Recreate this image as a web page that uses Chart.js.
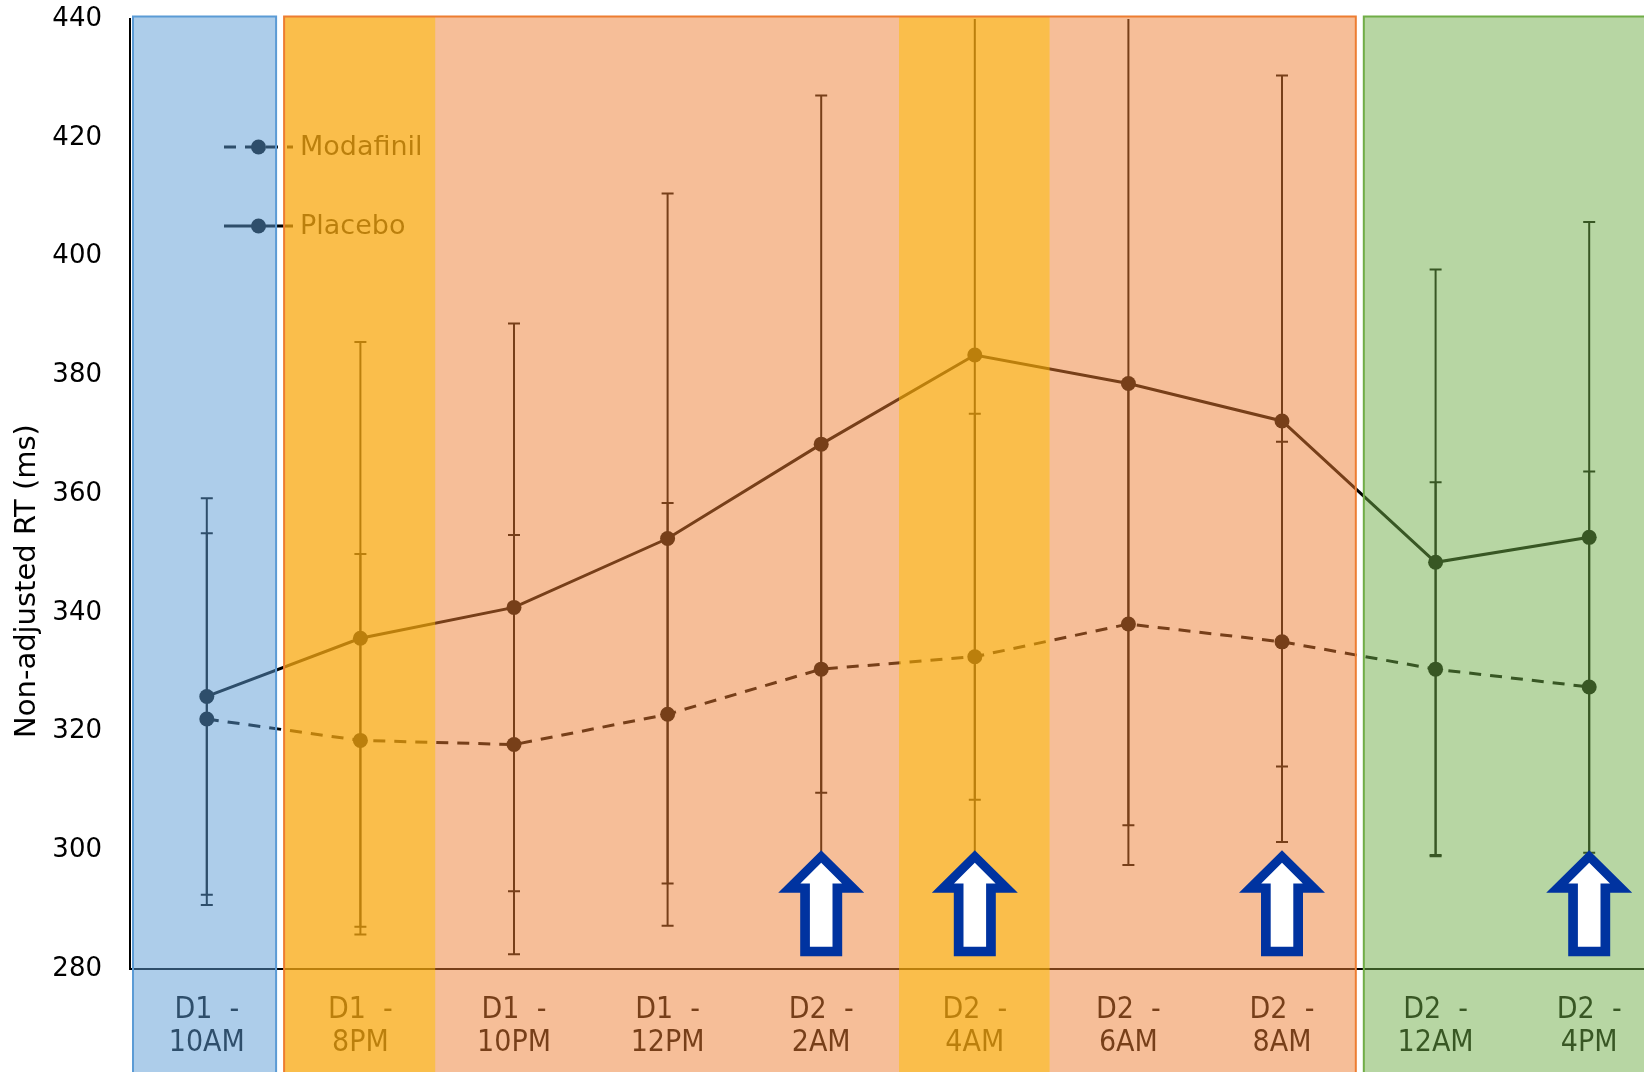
<!DOCTYPE html>
<html>
<head>
<meta charset="utf-8">
<title>Non-adjusted RT</title>
<script src="https://cdn.jsdelivr.net/npm/chart.js@4.4.1/dist/chart.umd.min.js"></script>
<style>
  html, body { margin: 0; padding: 0; background: #fff; overflow: hidden; }
  #wrap { width: 1700px; height: 1072px; }
</style>
</head>
<body>
<div id="wrap"><canvas id="rtChart" width="1700" height="1072"></canvas></div>
<script>
// session time points (two-line axis labels)
var timepoints = [
    ["D1  -", "10AM"], ["D1  -", "8PM"], ["D1  -", "10PM"], ["D1  -", "12PM"], ["D2  -", "2AM"],
    ["D2  -", "4AM"], ["D2  -", "6AM"], ["D2  -", "8AM"], ["D2  -", "12AM"], ["D2  -", "4PM"]
];

// mean reaction time (ms) and standard deviation per session
var modafinilRt = [322.1, 318.5, 317.8, 322.9, 330.5, 332.6, 338.1, 335.1, 330.5, 327.5];
var modafinilSd = [31.3, 31.4, 35.3, 35.6, 37.9, 40.9, 40.6, 33.7, 31.5, 36.3];
var placeboRt = [325.9, 335.7, 340.9, 352.5, 368.4, 383.4, 378.6, 372.3, 348.5, 352.7];
var placeboSd = [33.4, 49.9, 47.8, 58.1, 58.7, 74.9, 74.4, 58.2, 49.3, 53.1];

// y axis range
var yMin = 280;
var yMax = 440;
var yStep = 20;

// sessions flagged with an arrow, and the RT level the arrow tip points to
var arrowSessions = [4, 5, 7, 9];
var arrowTipRt = 300;

// coloured phases laid over the chart (category index ranges)
var phases = [
    { from: 0, to: 1, color: "#5b9bd5", edge: true, inset: [3, -7.5] },
    { from: 1, to: 8, color: "#ed7d31", edge: true, inset: [0.5, -3] },
    { from: 1, to: 2, color: "#ffc000", edge: false, inset: [0.5, -2] },
    { from: 5, to: 6, color: "#ffc000", edge: false, inset: [1, -2] },
    { from: 8, to: 10, color: "#70ad47", edge: true, inset: [5, 40] }
];

var tickFont = "'DejaVu Sans'";

var phasePlugin = {
    id: "phases",
    beforeDatasetsDraw: function (chart) {
        // error bars (+/- 1 SD)
        var c = chart.ctx, a = chart.chartArea, ys = chart.scales.y;
        c.save();
        c.strokeStyle = "#000";
        c.lineWidth = 2;
        chart.data.datasets.forEach(function (ds, di) {
            var meta = chart.getDatasetMeta(di);
            ds.data.forEach(function (v, i) {
                var x = meta.data[i].x;
                var top = ys.getPixelForValue(v + ds.sd[i]);
                var bot = ys.getPixelForValue(v - ds.sd[i]);
                c.beginPath();
                c.moveTo(x, Math.max(top, a.top));
                c.lineTo(x, Math.min(bot, a.bottom));
                if (top >= a.top) { c.moveTo(x - 6, top); c.lineTo(x + 6, top); }
                if (bot <= a.bottom) { c.moveTo(x - 6, bot); c.lineTo(x + 6, bot); }
                c.stroke();
            });
        });
        c.restore();
    },
    afterDraw: function (chart) {
        var c = chart.ctx, a = chart.chartArea;
        var xs = chart.scales.x, ys = chart.scales.y;

        // legend
        chart.data.datasets.forEach(function (ds, i) {
            var y = a.top + 128 + i * 79;
            c.save();
            c.strokeStyle = "#000";
            c.lineWidth = 3;
            c.setLineDash(ds.borderDash || []);
            c.beginPath();
            c.moveTo(a.left + 94, y);
            c.lineTo(a.left + 163, y);
            c.stroke();
            c.setLineDash([]);
            c.fillStyle = "#000";
            c.beginPath();
            c.arc(a.left + 128.5, y, 7.5, 0, Math.PI * 2);
            c.fill();
            c.font = "27px " + tickFont;
            c.textBaseline = "middle";
            c.fillText(ds.label, a.left + 170, y + 1);
            c.restore();
        });

        // y axis title
        c.save();
        c.translate(27, 581);
        c.rotate(-Math.PI / 2);
        c.font = "29px " + tickFont;
        c.fillStyle = "#000";
        c.textAlign = "center";
        c.textBaseline = "middle";
        c.fillText("Non-adjusted RT (ms)", 0, 0);
        c.restore();

        // phase shading
        var step = a.width / timepoints.length;
        var top = a.top - 2.5, bottom = chart.height + 20;
        var boxes = phases.map(function (p) {
            var l = a.left + p.from * step + p.inset[0];
            var r = a.left + p.to * step + p.inset[1];
            return { l: l, r: r, p: p };
        });
        c.save();
        boxes.forEach(function (b) {
            c.globalAlpha = 0.5;
            c.fillStyle = b.p.color;
            c.fillRect(b.l, top, b.r - b.l, bottom - top);
        });
        c.globalAlpha = 1;
        c.lineWidth = 2;
        boxes.forEach(function (b) {
            if (!b.p.edge) return;
            c.strokeStyle = b.p.color;
            c.strokeRect(b.l, top, b.r - b.l, bottom - top);
        });
        c.restore();

        // arrows
        c.save();
        arrowSessions.forEach(function (i) {
            var cx = xs.getPixelForValue(i);
            var ty = ys.getPixelForValue(arrowTipRt);
            c.fillStyle = "#0033a0";
            c.beginPath();
            c.moveTo(cx, ty);
            c.lineTo(cx + 43, ty + 42.6);
            c.lineTo(cx + 21, ty + 42.6);
            c.lineTo(cx + 21, ty + 106);
            c.lineTo(cx - 21, ty + 106);
            c.lineTo(cx - 21, ty + 42.6);
            c.lineTo(cx - 43, ty + 42.6);
            c.closePath();
            c.fill();
            c.fillStyle = "#ffffff";
            c.beginPath();
            c.moveTo(cx, ty + 12.6);
            c.lineTo(cx + 20.8, ty + 33.3);
            c.lineTo(cx + 11.3, ty + 33.3);
            c.lineTo(cx + 11.3, ty + 96.6);
            c.lineTo(cx - 11.3, ty + 96.6);
            c.lineTo(cx - 11.3, ty + 33.3);
            c.lineTo(cx - 20.8, ty + 33.3);
            c.closePath();
            c.fill();
        });
        c.restore();
    }
};

var lineStyle = {
    borderColor: "#000",
    backgroundColor: "#000",
    borderWidth: 3,
    pointRadius: 7.5,
    pointBorderWidth: 0,
    pointBackgroundColor: "#000",
    tension: 0
};

new Chart(document.getElementById("rtChart"), {
    type: "line",
    data: {
        labels: timepoints,
        datasets: [
            Object.assign({ label: "Modafinil", data: modafinilRt, sd: modafinilSd, borderDash: [12, 9] }, lineStyle),
            Object.assign({ label: "Placebo", data: placeboRt, sd: placeboSd }, lineStyle)
        ]
    },
    options: {
        responsive: false,
        animation: false,
        events: [],
        layout: { padding: { top: 19, right: 34, left: 0, bottom: 0 } },
        plugins: {
            legend: { display: false },
            tooltip: { enabled: false }
        },
        scales: {
            x: {
                offset: true,
                grid: { display: false, drawTicks: false },
                border: { display: true, color: "#000", width: 2 },
                ticks: {
                    color: "#000",
                    autoSkip: false,
                    maxRotation: 0,
                    padding: 25,
                    font: { family: "'DejaVu Sans Condensed', 'DejaVu Sans'", size: 30, lineHeight: 1.1 }
                },
                afterFit: function (scale) {
                    scale.height = 103;
                    scale.paddingLeft = 0;
                    scale.paddingRight = 0;
                }
            },
            y: {
                min: yMin,
                max: yMax,
                grid: { display: false, drawTicks: false },
                border: { display: true, color: "#000", width: 2 },
                ticks: {
                    stepSize: yStep,
                    color: "#000",
                    padding: 28,
                    font: { family: tickFont, size: 26 }
                },
                afterFit: function (scale) {
                    scale.width = 130;
                    scale.paddingTop = 0;
                    scale.paddingBottom = 0;
                }
            }
        }
    },
    plugins: [phasePlugin]
});
</script>
</body>
</html>
